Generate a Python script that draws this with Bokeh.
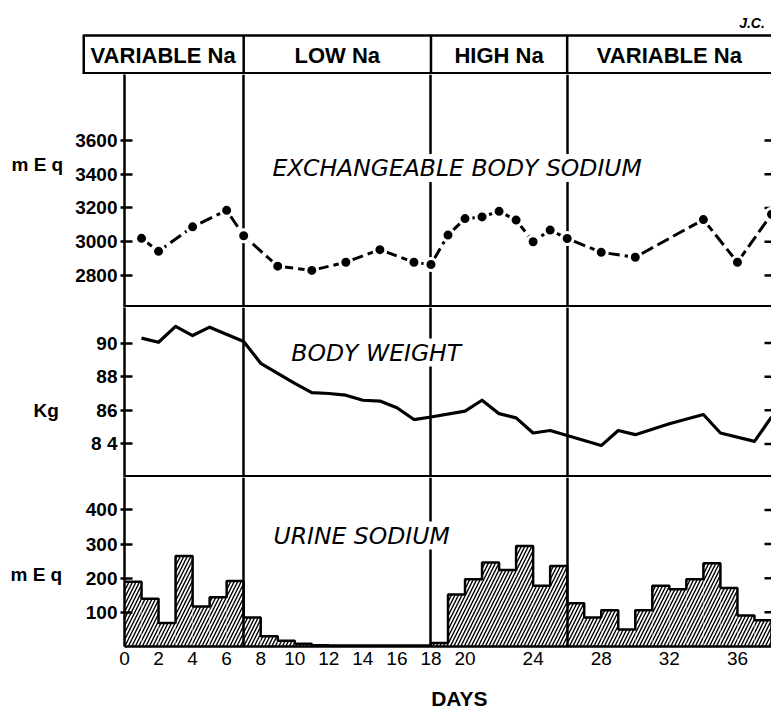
from bokeh.plotting import figure
from bokeh.layouts import column, row
from bokeh.models import Range1d, LinearAxis, FixedTicker, Label
from bokeh.embed import file_html
from bokeh.resources import INLINE
from bokeh.core.properties import value

# ---------------- data ----------------
phase_names = ["VARIABLE Na", "LOW Na", "HIGH Na", "VARIABLE Na"]
phase_bounds = [7, 18, 26]

na_days = [1, 2, 4, 6, 7, 9, 11, 13, 15, 17, 18, 19, 20, 21, 22, 23, 24, 25, 26, 28, 30, 34, 36, 38]
na_values = [3020, 2943, 3088, 3186, 3035, 2855, 2830, 2878, 2953, 2878, 2865, 3039, 3137, 3147,
             3180, 3128, 3000, 3069, 3019, 2937, 2908, 3131, 2878, 3163]
na_ticks = [2800, 3000, 3200, 3400, 3600]
na_tick_labels = ["2800", "3000", "3200", "3400", "3600"]

wt_days = [1, 2, 3, 4, 5, 7, 8, 9, 10, 11, 12, 13, 14, 15, 16, 17, 18, 20, 21, 22, 23, 24, 25, 26,
           28, 29, 30, 32, 34, 35, 37, 38]
wt_values = [90.3, 90.05, 91.0, 90.45, 90.95, 90.1, 88.8, 88.2, 87.6, 87.05, 87.0, 86.9, 86.6, 86.55,
             86.15, 85.45, 85.6, 85.95, 86.6, 85.8, 85.55, 84.65, 84.8, 84.5, 83.9, 84.8, 84.55, 85.2,
             85.75, 84.65, 84.15, 85.6]
wt_ticks = [84, 86, 88, 90]
wt_tick_labels = ["8 4", "86", "88", "90"]

urine_days = list(range(38))
urine_values = [190, 140, 69, 265, 117, 144, 192, 85, 30, 17, 8, 4, 3, 3, 3, 3, 3, 3, 10,
                152, 197, 246, 224, 294, 178, 236, 127, 85, 106, 50, 106, 178, 168, 197, 244, 171, 91, 77]
urine_ticks = [100, 200, 300, 400]
urine_tick_labels = ["100", "200", "300", "400"]

day_ticks = [0, 2, 4, 6, 8, 10, 12, 14, 16, 18, 20, 24, 28, 32, 36]

unit_texts = ["m E q", "Kg", "m E q"]
panel_titles = ["EXCHANGEABLE BODY SODIUM", "BODY WEIGHT", "URINE SODIUM"]

# ---------------- layout constants ----------------
X_END = 38.0
FW = 647
UNIT_W = 70
PX_PER_DAY = FW / X_END
HEAD_LEFT = -42 / PX_PER_DAY
FONT = value("Liberation Sans")


def base_fig(frame_h, y0, y1, x0=0.0, x1=X_END, fw=FW, left=54, top=0, bottom=0):
    p = figure(frame_width=fw, frame_height=frame_h,
               x_range=Range1d(x0, x1), y_range=Range1d(y0, y1),
               x_axis_location=None, y_axis_location=None,
               output_backend="svg", toolbar_location=None,
               min_border_left=left, min_border_right=0,
               min_border_top=top, min_border_bottom=bottom,
               outline_line_color=None, background_fill_color="white",
               border_fill_color="white")
    p.grid.visible = False
    return p


def add_y_axes(p, ticks, labels):
    ax = LinearAxis(ticker=FixedTicker(ticks=ticks),
                    major_label_overrides={t: l for t, l in zip(ticks, labels)},
                    axis_line_width=2.5, major_tick_line_width=2.5,
                    major_tick_in=8, major_tick_out=4, minor_tick_line_color=None,
                    major_label_text_font="Liberation Sans", major_label_text_font_style="bold",
                    major_label_text_font_size="19px", major_label_text_color="black",
                    major_label_standoff=3)
    p.add_layout(ax, "left")
    # right-hand tick marks (axis itself lies just beyond the cropped edge)
    p.scatter(x=[X_END] * len(ticks), y=ticks, marker="dash", size=14,
              line_color="black", line_width=2.5)


def title(p, text, x, y):
    p.add_layout(Label(x=x, y=y, text=text, text_font="DejaVu Sans", text_font_style="italic",
                       text_font_size="23.5px", text_align="left", text_baseline="middle",
                       text_color="black", background_fill_color="white"))


# ---------------- unit labels (left strip) ----------------
units = figure(frame_width=UNIT_W, frame_height=713, x_range=Range1d(0, UNIT_W),
               y_range=Range1d(713, 0), x_axis_location=None, y_axis_location=None,
               output_backend="svg", toolbar_location=None, min_border=0,
               outline_line_color=None, background_fill_color="white", border_fill_color="white")
units.grid.visible = False
units.frame_align = False
units.text(x=[11, 33, 10], y=[164, 410, 574], text=unit_texts, text_font=FONT,
           text_font_style="bold", text_font_size="19px", text_color="black",
           text_align="left", text_baseline="alphabetic")

# ---------------- header ----------------
head = base_fig(74, 0, 74 / 39, x0=HEAD_LEFT, fw=FW + 42, left=12)
head.frame_align = False
head.hspan(y=[0], line_color="black", line_width=5)
head.hspan(y=[1], line_color="black", line_width=2.5)
head.segment(x0=[HEAD_LEFT], y0=[0], x1=[HEAD_LEFT], y1=[1], line_color="black", line_width=5)
head.segment(x0=phase_bounds, y0=[0] * 3, x1=phase_bounds, y1=[1] * 3,
             line_color="black", line_width=2.5)
edges = [HEAD_LEFT] + phase_bounds + [X_END]
centers = [(a + b) / 2 for a, b in zip(edges[:-1], edges[1:])]
head.text(x=centers, y=[0.5] * len(centers), text=phase_names, text_align="center",
          text_baseline="middle", text_font=FONT, text_font_style="bold",
          text_font_size="22px", text_color="black")
head.text(x=[36.1], y=[1.31], text=["J.C."], text_font=FONT, text_font_style="bold italic",
          text_font_size="14px", text_color="black", text_align="left", text_baseline="middle")

# ---------------- exchangeable sodium ----------------
p1 = base_fig(233, 2610, 3991)
add_y_axes(p1, na_ticks, na_tick_labels)
p1.vspan(x=phase_bounds, line_color="black", line_width=2.5)
p1.hspan(y=[2610], line_color="black", line_width=5)
p1.line(na_days, na_values, line_color="black", line_width=3, line_dash="13 5")
p1.scatter(na_days, na_values, size=12, fill_color="black", line_color="white", line_width=3)
title(p1, panel_titles[0], 8.69, 3437)

# ---------------- body weight ----------------
p2 = base_fig(170, 82.0, 92.12)
add_y_axes(p2, wt_ticks, wt_tick_labels)
p2.vspan(x=phase_bounds, line_color="black", line_width=2.5)
p2.hspan(y=[82.0], line_color="black", line_width=5)
p2.line(wt_days, wt_values, line_color="black", line_width=3.2, line_join="round")
title(p2, panel_titles[1], 9.8, 89.44)

# ---------------- urine sodium ----------------
p3 = base_fig(169, 0, 495, bottom=30)
add_y_axes(p3, urine_ticks, urine_tick_labels)
p3.quad(left=urine_days, right=[d + 1 for d in urine_days], bottom=0, top=urine_values,
        fill_color="white", line_color=None, hatch_pattern="/", hatch_color="black",
        hatch_scale=7, hatch_weight=1.4)
p3.step(urine_days + [urine_days[-1] + 1], urine_values + [0], mode="after",
        line_color="black", line_width=2.5)
p3.vspan(x=phase_bounds, line_color="black", line_width=2.5)
title(p3, panel_titles[2], 8.75, 325)
xax = LinearAxis(ticker=FixedTicker(ticks=day_ticks), axis_line_width=2.5,
                 major_tick_in=0, major_tick_out=0, minor_tick_line_color=None,
                 major_label_text_font="Liberation Sans", major_label_text_font_size="19px",
                 major_label_text_color="black", major_label_standoff=5)
p3.add_layout(xax, "below")

# ---------------- x-axis title strip ----------------
days = base_fig(37, 0, 1)
days.text(x=[19.67], y=[0.4], text=["DAYS"], text_font=FONT, text_font_style="bold",
          text_font_size="21px", text_color="black", text_align="center",
          text_baseline="middle")

layout = row(units, column(head, p1, p2, p3, days, spacing=0), spacing=0)
open("out.html", "w").write(file_html(layout, INLINE))
